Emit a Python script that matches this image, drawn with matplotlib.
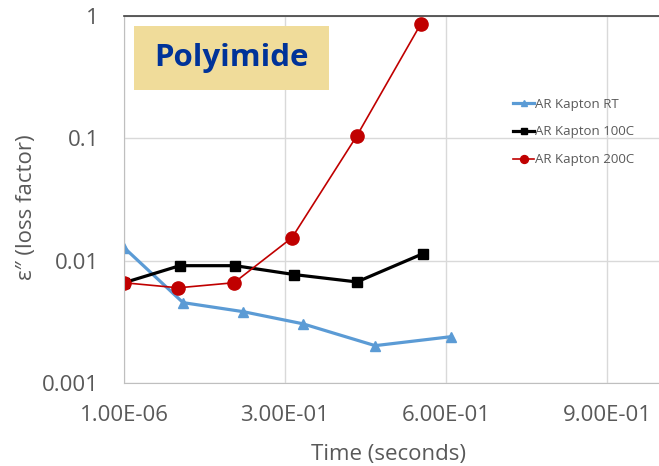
import matplotlib
matplotlib.use("Agg")
import matplotlib.pyplot as plt
import matplotlib.ticker as mticker
from matplotlib.patches import Rectangle

plt.rcParams['font.family'] = ['Open Sans', 'DejaVu Sans']

# loss factor vs time for the three Kapton samples
t_rt = [1e-6, 0.110, 0.222, 0.333, 0.468, 0.609]
eps_rt = [0.0128, 0.00454, 0.00383, 0.00305, 0.00202, 0.00239]

t_100 = [1e-6, 0.104, 0.207, 0.317, 0.434, 0.557]
eps_100 = [0.0066, 0.0091, 0.0091, 0.0077, 0.0067, 0.0114]

t_200 = [1e-6, 0.101, 0.205, 0.313, 0.434, 0.553]
eps_200 = [0.0066, 0.0060, 0.0066, 0.0154, 0.105, 0.86]

x_ticks = [1e-6, 0.3, 0.6, 0.9]
x_ticklabels = ["1.00E-06", "3.00E-01", "6.00E-01", "9.00E-01"]
y_ticks = [0.001, 0.01, 0.1, 1]
y_ticklabels = ["0.001", "0.01", "0.1", "1"]

grey = "#595959"

fig = plt.figure(figsize=(6.59, 4.66), dpi=100)
ax = fig.add_axes([124 / 659, (466 - 383) / 466, (659 - 124) / 659, (383 - 16) / 466])

ax.plot(t_rt, eps_rt, color="#5B9BD5", lw=2.3, marker="^", ms=7, label="AR Kapton RT")
ax.plot(t_100, eps_100, color="black", lw=2.3, marker="s", ms=6.5, label="AR Kapton 100C")
ax.plot(t_200, eps_200, color="#C00000", lw=1.2, marker="o", ms=9.5, label="AR Kapton 200C")

ax.set_yscale("log")
ax.set_ylim(0.001, 1)
ax.set_xlim(1e-6, 0.997)
ax.set_xticks(x_ticks)
ax.set_xticklabels(x_ticklabels)
ax.set_yticks(y_ticks)
ax.set_yticklabels(y_ticklabels)
ax.yaxis.set_minor_locator(mticker.NullLocator())
ax.tick_params(length=0, labelsize=16, colors=grey)
ax.tick_params(axis="x", pad=16)
ax.tick_params(axis="y", pad=18)

ax.grid(True, color="#D9D9D9", lw=1)
ax.set_axisbelow(True)
for side in ["left", "bottom"]:
    ax.spines[side].set_color("#BFBFBF")
ax.spines["right"].set_visible(False)
ax.spines["top"].set_color("#404040")
ax.spines["top"].set_linewidth(1.2)

ax.set_xlabel("Time (seconds)", fontsize=16, color=grey)
ax.set_ylabel("ε″ (loss factor)", fontsize=16, color=grey)
ax.xaxis.set_label_coords(0.494, -0.165)
ax.yaxis.set_label_coords(-0.162, 0.48)

# title badge
ax.add_patch(Rectangle((0.019, 0.798), 0.364, 0.175, transform=ax.transAxes,
                       facecolor="#F0DC9A", edgecolor="none", zorder=3))
ax.text(0.201, 0.886, "Polyimide", transform=ax.transAxes, ha="center", va="center",
        fontsize=22.5, fontweight="bold", color="#003399", zorder=4)

leg = ax.legend(loc="upper left", bbox_to_anchor=(0.705, 0.81), frameon=False,
                fontsize=9.5, handlelength=1.6, handletextpad=0.1, labelspacing=1.12,
                markerscale=0.6)
for txt in leg.get_texts():
    txt.set_color(grey)

fig.savefig("out.png", dpi=100)
